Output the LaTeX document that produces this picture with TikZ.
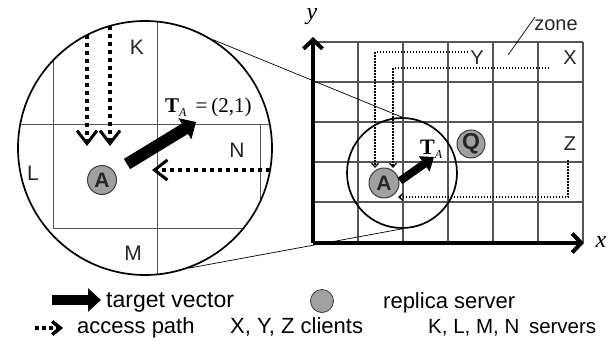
\documentclass[tikz,border=0pt]{standalone}
\usepackage{fontspec}
\setmainfont{Liberation Serif}
\setsansfont{Liberation Sans}
\usetikzlibrary{arrows.meta}
\definecolor{repfill}{RGB}{160,160,160}
\definecolor{repdraw}{RGB}{60,60,60}
\definecolor{gridc}{RGB}{85,85,85}
\begin{document}
\begin{tikzpicture}[x=1pt,y=-1pt,
  lbl/.style={font=\sffamily\fontsize{21}{21}\selectfont, inner sep=0, text=black!85},
  slbl/.style={font=\sffamily\fontsize{20}{20}\selectfont, inner sep=0, text=black!85},
  leg/.style={font=\sffamily\fontsize{22}{22}\selectfont, inner sep=0, anchor=base west},
  rep/.style={circle, fill=repfill, draw=repdraw, line width=1pt, inner sep=0,
    font=\sffamily\bfseries\fontsize{21}{21}\selectfont, text=black!85},
  gridl/.style={draw=gridc, line width=0.9pt},
  gridr/.style={draw=gridc, line width=1.1pt},
  zoomc/.style={circle, draw, line width=1.7pt, inner sep=0},
  axis/.style={line width=4.5pt, -{Straight Barb[length=9pt,width=19pt,line width=4pt]}},
  tvec/.style={line width=12pt, -{Triangle[length=13pt,width=24pt]}},
  tvecs/.style={line width=8pt, -{Triangle[length=12pt,width=18pt]}},
  adot/.style={line width=3.5pt, dash pattern=on 4pt off 4pt,
    -{Straight Barb[length=13pt,width=20pt,line width=3pt]}},
  tdot/.style={line width=1.4pt, dash pattern=on 1.5pt off 1.5pt,
    -{Straight Barb[length=4pt,width=7pt,line width=1.2pt]}},
  link/.style={line width=0.7pt}
]
\useasboundingbox (0,0) rectangle (608,343);

% ---------- right grid ----------
\foreach \i in {0,...,6} \draw[gridr] ({313+45*\i},42) -- ({313+45*\i},242);
\foreach \j in {0,...,5} \draw[gridr] (313,{42+40*\j}) -- (583,{42+40*\j});

% axes
\coordinate (O) at (313,243);
\coordinate (yend) at (313,37);
\coordinate (xend) at (584,243);
\draw[axis] (O) -- (yend);
\draw[axis] (O) -- (xend);
\node[font=\itshape\fontsize{24}{24}\selectfont, inner sep=0] (ylab) at (312,17) {y};
\node[font=\itshape\fontsize{24}{24}\selectfont, inner sep=0] (xlab) at (601,242) {x};

% ---------- left zoom circle ----------
\begin{scope}
\clip (145,148) circle (127);
\draw[gridl] (53,0) -- (53,228) -- (300,228);
\draw[gridl] (0,124) -- (300,124);
\draw[gridl] (157,0) -- (157,300);
\draw[gridl] (260,124) -- (260,300);
\end{scope}
\node[zoomc, minimum size=254pt] (big) at (145,148) {};
\node[zoomc, minimum size=110pt] (small) at (402,173) {};
\draw[link] (big.58) -- (small.north);
\draw[link] (big.-70.6) -- (small.south);

% server labels
\node[lbl] (K) at (137,47) {K};
\node[lbl] (L) at (33,173) {L};
\node[lbl] (M) at (133,253) {M};
\node[lbl] (N) at (237,150) {N};

% replica A (left)
\node[rep, minimum size=29pt] (A1) at (102,180) {A};
\coordinate (t1s) at (127,164);
\coordinate (t1e) at (196,122);
\draw[tvec] (t1s) -- (t1e);
\node[anchor=base west, inner sep=0, font=\fontsize{21}{21}\selectfont] (TA1) at (165,112)
  {\textbf{T}\raisebox{-0.45ex}{\fontsize{12}{12}\selectfont\itshape A}\hspace{9pt}=\hspace{4pt}(2,1)};

% access paths (left)
\coordinate (k1s) at (87,35);
\coordinate (k1e) at (87,146);
\coordinate (k2s) at (110,26);
\coordinate (k2e) at (110,146);
\coordinate (ns) at (270,170);
\coordinate (ne) at (152,170);
\draw[adot] (k1s) -- (k1e);
\draw[adot] (k2s) -- (k2e);
\draw[adot] (ns) -- (ne);

% ---------- right details ----------
\node[rep, minimum size=30pt] (A2) at (384,183) {A};
\node[rep, minimum size=28pt, font=\sffamily\bfseries\fontsize{23}{23}\selectfont] (Q) at (471,144) {Q};
\coordinate (t2s) at (400,181);
\coordinate (t2e) at (434,157);
\draw[tvecs] (t2s) -- (t2e);
\node[anchor=base west, inner sep=0, font=\fontsize{22}{22}\selectfont] (TA2) at (420,154)
  {\textbf{T}\raisebox{-0.45ex}{\fontsize{12}{12}\selectfont\itshape A}};

\node[slbl] (Y) at (477,58) {Y};
\node[slbl] (X) at (570,58) {X};
\node[slbl] (Z) at (570,144) {Z};
\node[slbl] (zone) at (556,25) {zone};
\coordinate (zl1) at (535,17);
\coordinate (zl2) at (508,55);
\draw[link] (zl1) -- (zl2);

\coordinate (ys) at (468,52);
\coordinate (yc) at (375,52);
\coordinate (ye) at (375,168);
\coordinate (xs) at (549,68);
\coordinate (xc) at (393,68);
\coordinate (xe) at (393,168);
\coordinate (zs) at (568,160);
\coordinate (zc) at (568,197);
\coordinate (ze) at (398,197);
\draw[tdot] (ys) -- (yc) -- (ye);
\draw[tdot] (xs) -- (xc) -- (xe);
\draw[tdot] (zs) -- (zc) -- (ze);

% ---------- legend ----------
\coordinate (lv1) at (52,300);
\coordinate (lv2) at (101,300);
\draw[line width=10pt, -{Triangle[length=13pt,width=23pt]}] (lv1) -- (lv2);
\node[leg, font=\sffamily\fontsize{23}{23}\selectfont] (tv) at (106,307) {target vector};
\node[circle, fill=repfill, draw=repdraw, line width=0.8pt, minimum size=23pt, inner sep=0] (lc) at (322,301) {};
\node[leg] (rs) at (383,308) {replica server};

\coordinate (la1) at (35,328);
\coordinate (la2) at (63,328);
\draw[line width=3.5pt, dash pattern=on 3.5pt off 3.5pt,
  -{Straight Barb[length=8pt,width=13pt,line width=3.5pt]}] (la1) -- (la2);
\node[leg] (ap) at (77,333) {access path};
\node[leg] (cl) at (230,333) {X, Y, Z clients};
\node[leg, font=\sffamily\fontsize{20.5}{20.5}\selectfont] (sv) at (428,333) {K, L, M, N\hspace{4pt} servers};
\end{tikzpicture}
\end{document}
